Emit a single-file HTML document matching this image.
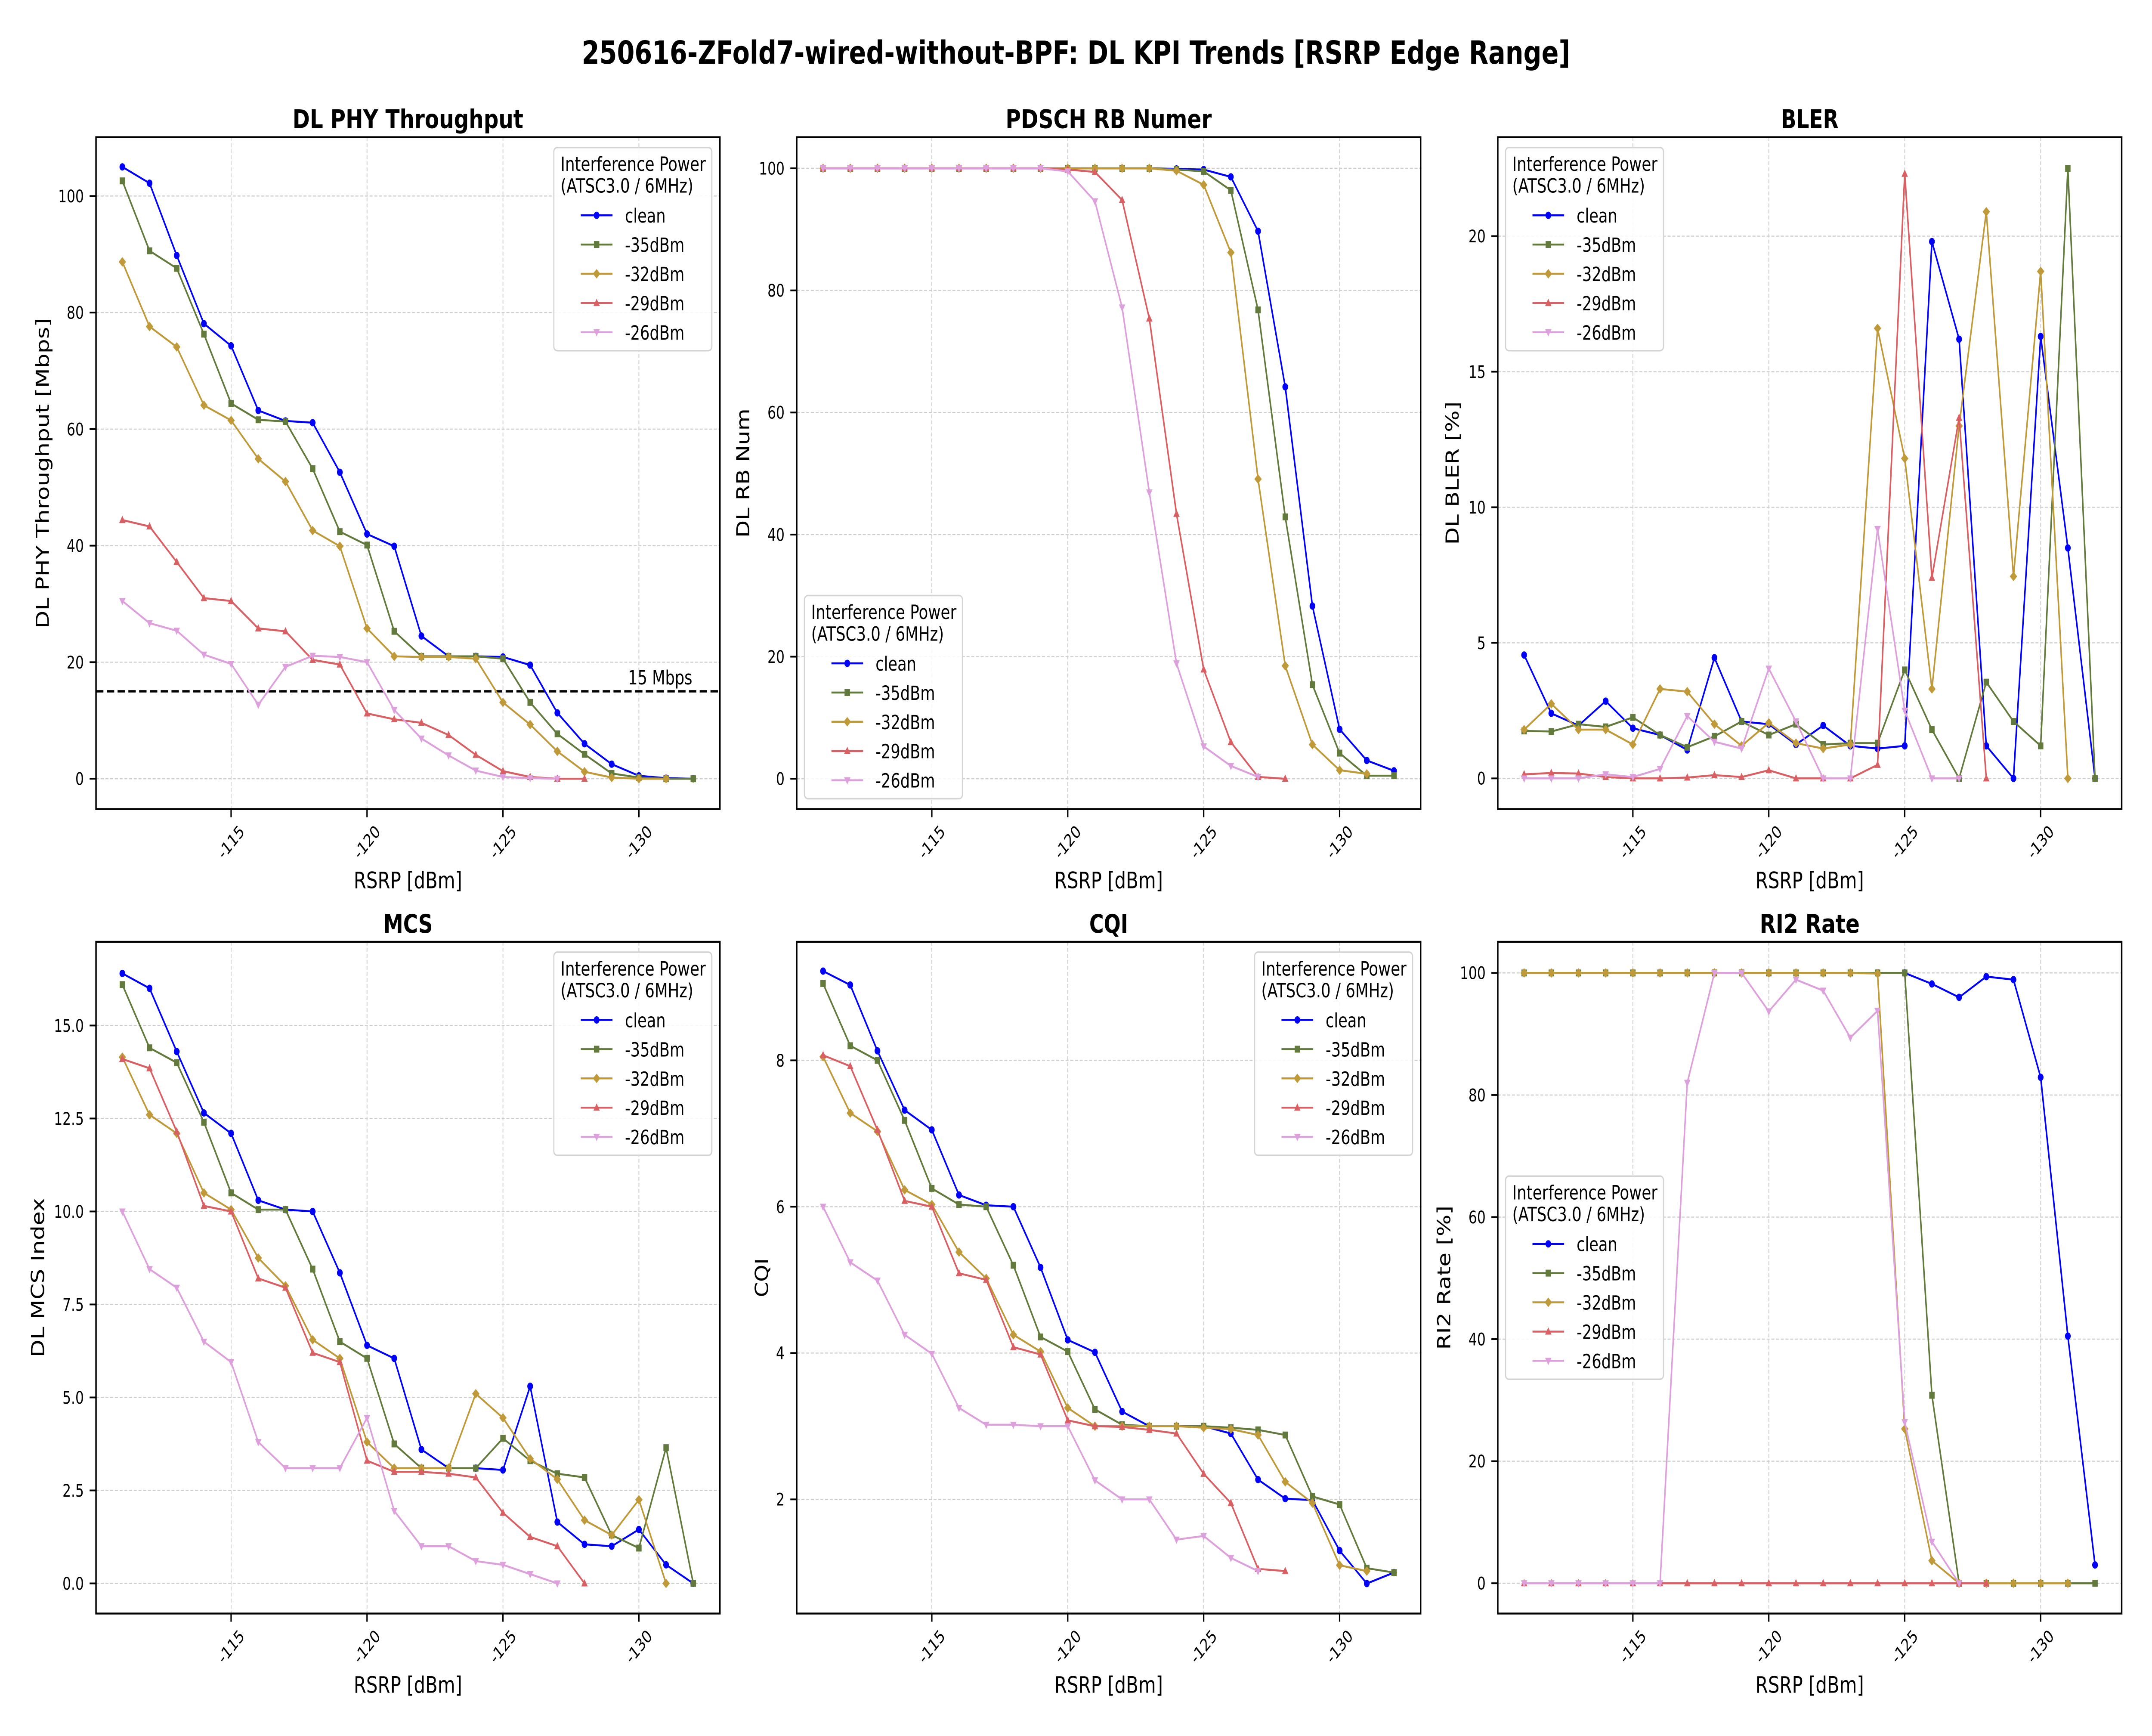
<!DOCTYPE html>
<html><head><meta charset="utf-8"><style>
html,body{margin:0;padding:0;background:#fff;overflow:hidden;width:100%;height:100%;}
svg{display:block;width:100vw;height:100vh;font-family:"DejaVu Sans","Liberation Sans",sans-serif;}
</style></head><body>
<svg id="chart" xmlns="http://www.w3.org/2000/svg" viewBox="0 0 6388 4033" preserveAspectRatio="none">
<rect x="0" y="0" width="6388" height="4033" fill="#fff"/>
<text x="3194" y="148" text-anchor="middle" font-size="74" font-weight="bold" textLength="2934" lengthAdjust="spacingAndGlyphs">250616-ZFold7-wired-without-BPF: DL KPI Trends [RSRP Edge Range]</text>
</svg>
<script>
const rsrp = [-111,-112,-113,-114,-115,-116,-117,-118,-119,-120,-121,-122,-123,-124,-125,-126,-127,-128,-129,-130,-131,-132];
const xTicks = [-115,-120,-125,-130];
const seriesNames = ['clean','-35dBm','-32dBm','-29dBm','-26dBm'];

const thrClean = [105,102.2,89.8,78.1,74.3,63.2,61.4,61.1,52.6,42,39.9,24.5,21,21,20.9,19.5,11.3,6,2.5,0.5,0.1,0];
const thr35 = [102.6,90.6,87.6,76.3,64.4,61.6,61.3,53.2,42.4,40.1,25.3,21,21,21,20.6,13.1,7.7,4.2,0.9,0.2,0,0];
const thr32 = [88.7,77.6,74.1,64.1,61.5,54.9,51,42.6,39.9,25.8,21,20.9,20.9,20.6,13.1,9.3,4.7,1.2,0.2,0,0,null];
const thr29 = [44.4,43.3,37.2,31,30.5,25.8,25.3,20.4,19.6,11.2,10.2,9.6,7.5,4.1,1.3,0.3,0,0,null,null,null,null];
const thr26 = [30.5,26.7,25.4,21.3,19.7,12.7,19.2,21.1,20.9,20,11.8,6.9,4,1.4,0.3,0.1,0,null,null,null,null,null];
const thrThreshold = 15;

const rbClean = [100,100,100,100,100,100,100,100,100,100,100,100,100,99.9,99.8,98.6,89.7,64.2,28.3,8.1,3,1.3];
const rb35 = [100,100,100,100,100,100,100,100,100,100,100,100,100,99.8,99.5,96.4,76.8,42.9,15.4,4.2,0.5,0.5];
const rb32 = [100,100,100,100,100,100,100,100,100,100,100,100,100,99.6,97.3,86.2,49.1,18.5,5.6,1.4,0.8,null];
const rb29 = [100,100,100,100,100,100,100,100,100,99.8,99.4,94.8,75.4,43.4,17.9,6,0.3,0,null,null,null,null];
const rb26 = [100,100,100,100,100,100,100,100,100,99.5,94.6,77.2,46.9,18.9,5.3,2.1,0.3,null,null,null,null,null];

const blerClean = [4.55,2.4,1.95,2.85,1.85,1.6,1.05,4.45,2.1,2.0,1.25,1.95,1.2,1.1,1.2,19.8,16.2,1.2,0,16.3,8.5,0];
const bler35 = [1.75,1.73,2.0,1.9,2.25,1.6,1.15,1.55,2.1,1.6,2.0,1.25,1.3,1.3,4.0,1.8,0,3.55,2.1,1.2,22.5,0];
const bler32 = [1.8,2.75,1.8,1.8,1.25,3.3,3.2,2.0,1.2,2.05,1.3,1.1,1.25,16.6,11.8,3.3,13.0,20.9,7.45,18.7,0,null];
const bler29 = [0.15,0.2,0.18,0.05,0,0,0.03,0.12,0.05,0.3,0,0,0,0.5,22.3,7.4,13.3,0,null,null,null,null];
const bler26 = [0,0,0,0.15,0.05,0.35,2.3,1.35,1.1,4.05,2.1,0,0,9.2,2.5,0,0,null,null,null,null,null];

const mcsClean = [16.4,16.0,14.3,12.65,12.1,10.3,10.05,10,8.35,6.4,6.05,3.6,3.1,3.1,3.05,5.3,1.65,1.05,1.0,1.45,0.5,0];
const mcs35 = [16.1,14.4,14.0,12.4,10.5,10.05,10.05,8.45,6.5,6.05,3.75,3.1,3.1,3.1,3.9,3.3,2.95,2.85,1.3,0.95,3.65,0];
const mcs32 = [14.15,12.6,12.1,10.5,10.05,8.75,8.0,6.55,6.05,3.8,3.1,3.1,3.1,5.1,4.45,3.35,2.8,1.7,1.3,2.25,0,null];
const mcs29 = [14.1,13.85,12.15,10.15,10.0,8.2,7.95,6.2,5.95,3.3,3.0,3.0,2.95,2.85,1.9,1.25,1.0,0,null,null,null,null];
const mcs26 = [10.0,8.45,7.95,6.5,5.95,3.8,3.1,3.1,3.1,4.45,1.95,1.0,1.0,0.6,0.5,0.25,0,null,null,null,null,null];

const cqiClean = [9.22,9.03,8.13,7.32,7.05,6.16,6.02,6.0,5.17,4.18,4.01,3.2,3.0,3.0,3.0,2.9,2.27,2.01,1.99,1.3,0.85,1.0];
const cqi35 = [9.05,8.2,8.0,7.18,6.25,6.03,6.0,5.2,4.22,4.02,3.23,3.02,3.0,3.0,3.0,2.98,2.95,2.88,2.04,1.93,1.06,1.0];
const cqi32 = [8.05,7.28,7.03,6.23,6.03,5.38,5.02,4.25,4.02,3.25,3.0,3.0,3.0,3.0,2.98,2.96,2.88,2.24,1.95,1.1,1.02,null];
const cqi29 = [8.07,7.92,7.05,6.08,6.0,5.09,5.0,4.08,3.98,3.08,3.0,2.99,2.95,2.9,2.35,1.95,1.05,1.02,null,null,null,null];
const cqi26 = [6.0,5.24,4.99,4.25,3.99,3.25,3.02,3.02,3.0,3.0,2.26,2.0,2.0,1.45,1.5,1.2,1.02,null,null,null,null,null];

const riClean = [100,100,100,100,100,100,100,100,100,100,100,100,100,100,100,98.2,96,99.4,98.9,82.9,40.5,3];
const ri35 = [100,100,100,100,100,100,100,100,100,100,100,100,100,100,100,30.8,0,0,0,0,0,0];
const ri32 = [100,100,100,100,100,100,100,100,100,100,100,100,100,99.9,25.3,3.7,0,0,0,0,0,null];
const ri29 = [0,0,0,0,0,0,0,0,0,0,0,0,0,0,0,0,0,0,null,null,null,null];
const ri26 = [0,0,0,0,0,0,82,100,100,93.7,98.9,97.1,89.4,93.8,26.4,6.8,0,null,null,null,null,null];

const ticksThr = [0,20,40,60,80,100];
const ticksRb = [0,20,40,60,80,100];
const ticksBler = [0,5,10,15,20];
const ticksMcs = [0,2.5,5,7.5,10,12.5,15];
const ticksCqi = [2,4,6,8];
const ticksRi = [0,20,40,60,80,100];

const NS='http://www.w3.org/2000/svg';
const svg=document.getElementById('chart');
const colors=['#0000ff','#627a3b','#c09a38','#d95f62','#dda0dd'];
const markers=['circle','square','diamond','tri-up','tri-down'];
const colLeft=[285,2365,4446];
const axW=1852;
const rowsY=[{top:318.7,bot:1879.5},{top:2188,bot:3748.5}];

function mk(tag,attrs,parent){const e=document.createElementNS(NS,tag);for(const k in attrs)e.setAttribute(k,attrs[k]);(parent||svg).appendChild(e);return e;}

function drawMarker(g,type,cx,cy,color){
  let e;
  if(type==='circle'){e=mk('circle',{cx:cx,cy:cy,r:8.5,fill:color},g);}
  else if(type==='square'){e=mk('rect',{x:cx-8,y:cy-8,width:16,height:16,fill:color},g);}
  else if(type==='diamond'){e=mk('polygon',{points:`${cx},${cy-11} ${cx+11},${cy} ${cx},${cy+11} ${cx-11},${cy}`,fill:color},g);}
  else if(type==='tri-up'){e=mk('polygon',{points:`${cx},${cy-10} ${cx+9.5},${cy+7} ${cx-9.5},${cy+7}`,fill:color},g);}
  else {e=mk('polygon',{points:`${cx},${cy+10} ${cx+9.5},${cy-7} ${cx-9.5},${cy-7}`,fill:color},g);}
  
  
}

function panel(cfg){
  const left=colLeft[cfg.col], right=left+axW;
  const top=rowsY[cfg.row].top, bot=rowsY[cfg.row].bot;
  const xs=d=>left+401+(-115-d)*80.7;
  const ys=v=>bot-(v-cfg.ylim[0])/(cfg.ylim[1]-cfg.ylim[0])*(bot-top);
  const g=mk('g',{});
  
  
  xTicks.forEach(t=>{const l=mk('line',{x1:xs(t),x2:xs(t),y1:top,y2:bot,stroke:'#cfcfcf','stroke-width':2.5,'stroke-dasharray':'9,5'},g);
    });
  cfg.ticks.forEach(t=>{const l=mk('line',{x1:left,x2:right,y1:ys(t),y2:ys(t),stroke:'#cfcfcf','stroke-width':2.5,'stroke-dasharray':'9,5'},g);
    });
  if(cfg.threshold!==undefined){
    const l=mk('line',{x1:left,x2:right,y1:ys(cfg.threshold),y2:ys(cfg.threshold),stroke:'#000','stroke-width':5.5,'stroke-dasharray':'22,10'},g);
    
    const t=mk('text',{x:right-82,y:ys(cfg.threshold)-16,'text-anchor':'end','font-size':45},g);
    t.textContent=cfg.threshold+' Mbps';
    
  }
  cfg.series.forEach((s,si)=>{
    const sg=mk('g',{},g);
    
    
    const pts=[];
    s.forEach((v,i)=>{if(v!==null&&v!==undefined)pts.push([xs(rsrp[i]),ys(v)]);});
    const pl=mk('polyline',{points:pts.map(p=>p[0].toFixed(1)+','+p[1].toFixed(1)).join(' '),fill:'none',stroke:colors[si],'stroke-width':4.5,'stroke-linejoin':'round'},sg);
    
    pts.forEach(p=>drawMarker(sg,markers[si],p[0],p[1],colors[si]));
  });
  const fr=mk('rect',{x:left,y:top,width:axW,height:bot-top,fill:'none',stroke:'#000','stroke-width':4.4},g);
  
  xTicks.forEach(t=>{
    const x=xs(t);
    const tm=mk('line',{x1:x,x2:x,y1:bot,y2:bot+19,stroke:'#000','stroke-width':4},g);
    
    const cy=bot+77;
    const tx=mk('text',{x:x,y:cy,dy:'0.35em','text-anchor':'middle','font-size':40,transform:`rotate(-45 ${x} ${cy})`},g);
    tx.textContent=String(t);
    
  });
  cfg.ticks.forEach(t=>{
    const y=ys(t);
    const tm=mk('line',{x1:left-19,x2:left,y1:y,y2:y,stroke:'#000','stroke-width':4},g);
    
    const tx=mk('text',{x:left-36,y:y,dy:'0.36em','text-anchor':'end','font-size':40},g);
    tx.textContent=cfg.fmt(t);
    
  });
  const tt=mk('text',{x:left+axW/2,y:top-21,'text-anchor':'middle','font-size':60,'font-weight':'bold',textLength:cfg.titleLen,lengthAdjust:'spacingAndGlyphs'},g);
  tt.textContent=cfg.title;
  const xl=mk('text',{x:left+axW/2,y:bot+184,'text-anchor':'middle','font-size':53,textLength:322,lengthAdjust:'spacingAndGlyphs'},g);
  xl.textContent='RSRP [dBm]';
  const cx=left+cfg.ylabOff+19, cy=(top+bot)/2;
  const yl=mk('text',{x:cx,y:cy,'text-anchor':'middle','font-size':53,transform:`rotate(-90 ${cx} ${cy})`,textLength:cfg.ylabLen,lengthAdjust:'spacingAndGlyphs'},g);
  yl.textContent=cfg.ylabel;
  const lw=469, lh=472;
  let lx, ly;
  if(cfg.legend==='ur'){lx=right-24-lw;ly=top+24;}
  else if(cfg.legend==='ul'){lx=left+23;ly=top+24;}
  else if(cfg.legend==='ll'){lx=left+23;ly=bot-24-lh;}
  else {lx=left+23;ly=(top+bot)/2-lh/2;}
  const lg=mk('g',{},g);
  
  mk('rect',{x:lx,y:ly,width:lw,height:lh,rx:10,fill:'#fff','fill-opacity':0.85,stroke:'#d4d4d4','stroke-width':3.5},lg);
  const t1=mk('text',{x:lx+20,y:ly+54.5,'font-size':45,textLength:431,lengthAdjust:'spacingAndGlyphs'},lg);
  t1.textContent='Interference Power';
  const t2=mk('text',{x:lx+20,y:ly+105,'font-size':45,textLength:394,lengthAdjust:'spacingAndGlyphs'},lg);
  t2.textContent='(ATSC3.0 / 6MHz)';
  seriesNames.forEach((n,i)=>{
    const ey=ly+157.5+i*67.9;
    const eg=mk('g',{},lg);
    
    
    mk('line',{x1:lx+80,x2:lx+174,y1:ey,y2:ey,stroke:colors[i],'stroke-width':4.5},eg);
    drawMarker(eg,markers[i],lx+127,ey,colors[i]);
    const et=mk('text',{x:lx+211,y:ey+17,'font-size':45},eg);
    et.textContent=n;
  });
}

panel({id:'throughput',col:0,row:0,title:'DL PHY Throughput',titleLen:685,ylabel:'DL PHY Throughput [Mbps]',ylabLen:721,ylabOff:-159,
  ylim:[-5.2,110.1],ticks:ticksThr,fmt:t=>String(t),legend:'ur',threshold:thrThreshold,series:[thrClean,thr35,thr32,thr29,thr26]});
panel({id:'rb',col:1,row:0,title:'PDSCH RB Numer',titleLen:612,ylabel:'DL RB Num',ylabLen:300,ylabOff:-160,
  ylim:[-4.96,105.1],ticks:ticksRb,fmt:t=>String(t),legend:'ll',series:[rbClean,rb35,rb32,rb29,rb26]});
panel({id:'bler',col:2,row:0,title:'BLER',titleLen:171,ylabel:'DL BLER [%]',ylabLen:333,ylabOff:-135,
  ylim:[-1.13,23.65],ticks:ticksBler,fmt:t=>String(t),legend:'ul',series:[blerClean,bler35,bler32,bler29,bler26]});
panel({id:'mcs',col:0,row:1,title:'MCS',titleLen:147,ylabel:'DL MCS Index',ylabLen:370,ylabOff:-173,
  ylim:[-0.81,17.25],ticks:ticksMcs,fmt:t=>t.toFixed(1),legend:'ur',series:[mcsClean,mcs35,mcs32,mcs29,mcs26]});
panel({id:'cqi',col:1,row:1,title:'CQI',titleLen:115,ylabel:'CQI',ylabLen:91,ylabOff:-104,
  ylim:[0.44,9.62],ticks:ticksCqi,fmt:t=>String(t),legend:'ur',series:[cqiClean,cqi35,cqi32,cqi29,cqi26]});
panel({id:'ri2',col:2,row:1,title:'RI2 Rate',titleLen:297,ylabel:'RI2 Rate [%]',ylabLen:335,ylabOff:-160,
  ylim:[-4.96,105.1],ticks:ticksRi,fmt:t=>String(t),legend:'cl',series:[riClean,ri35,ri32,ri29,ri26]});
</script>
</body></html>
